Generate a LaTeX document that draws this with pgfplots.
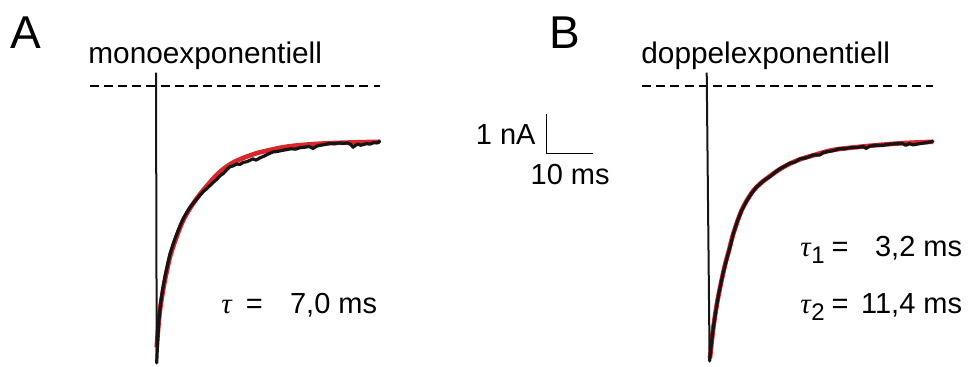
\documentclass[border=0pt]{standalone}
\usepackage{pgfplots}
\pgfplotsset{compat=1.18}
\usepackage{fontspec}
\setmainfont{Liberation Sans}
\newfontfamily\greekit{Liberation Serif}

\definecolor{fitred}{RGB}{218,37,42}
\definecolor{trace}{RGB}{25,20,20}

% recorded current (black) and fitted curves (red): time in ms, current in nA
\pgfplotstableread{
t I
0.00 -7.10
0.20 -6.55
0.45 -6.05
0.80 -5.62
1.25 -5.25
1.80 -4.89
2.35 -4.59
2.89 -4.31
3.60 -4.04
4.35 -3.80
5.05 -3.59
5.78 -3.40
6.50 -3.25
7.20 -3.12
7.96 -3.00
8.70 -2.90
9.40 -2.80
10.2 -2.70
10.9 -2.63
11.6 -2.55
12.3 -2.47
13.0 -2.40
13.8 -2.30
14.5 -2.24
15.2 -2.15
15.9 -2.07
16.6 -2.05
17.4 -2.00
18.1 -2.01
18.8 -1.96
19.6 -1.94
20.2 -1.91
20.9 -1.87
21.6 -1.90
22.5 -1.84
23.3 -1.80
24.3 -1.74
25.3 -1.69
26.2 -1.68
27.3 -1.65
28.3 -1.63
29.2 -1.61
30.2 -1.62
31.2 -1.58
32.2 -1.57
33.1 -1.55
34.0 -1.60
34.8 -1.54
35.6 -1.52
36.6 -1.50
37.6 -1.47
38.6 -1.48
39.6 -1.46
40.6 -1.47
41.4 -1.46
42.2 -1.50
42.7 -1.57
43.2 -1.52
43.8 -1.49
44.3 -1.52
44.9 -1.50
45.6 -1.48
46.4 -1.49
47.2 -1.45
47.9 -1.46
48.5 -1.42
}\traceA

\pgfplotstableread{
t I
0.00 -6.70
0.35 -6.18
0.72 -5.74
1.25 -5.33
1.80 -4.97
2.35 -4.66
2.89 -4.38
3.60 -4.11
4.35 -3.86
5.05 -3.64
5.78 -3.44
6.85 -3.21
7.96 -3.01
9.05 -2.83
10.13 -2.67
11.5 -2.48
13.04 -2.28
14.8 -2.10
16.65 -1.96
18.5 -1.86
20.28 -1.78
22.1 -1.71
23.91 -1.66
27.0 -1.58
30.0 -1.53
34.0 -1.49
38.0 -1.465
43.0 -1.445
48.5 -1.43
}\fitA

\pgfplotstableread{
t I
0.35 -7.05
0.75 -6.60
1.09 -6.26
1.50 -5.92
1.89 -5.63
2.35 -5.32
2.83 -5.05
3.25 -4.81
3.70 -4.60
4.15 -4.40
4.57 -4.22
5.05 -4.01
5.50 -3.79
6.40 -3.46
7.33 -3.19
8.40 -2.95
9.50 -2.75
10.4 -2.61
11.3 -2.51
12.4 -2.40
13.5 -2.32
14.6 -2.21
15.7 -2.12
16.8 -2.05
17.8 -1.98
18.9 -1.95
20.0 -1.87
21.4 -1.84
22.8 -1.77
24.3 -1.77
25.0 -1.71
26.0 -1.68
27.2 -1.66
28.5 -1.61
29.8 -1.61
31.0 -1.58
32.3 -1.58
33.7 -1.55
34.4 -1.60
35.2 -1.54
36.5 -1.52
38.0 -1.52
39.5 -1.49
40.9 -1.48
42.2 -1.47
43.0 -1.52
43.8 -1.48
44.6 -1.51
45.5 -1.49
46.5 -1.47
47.7 -1.45
48.9 -1.42
}\traceB

\pgfplotstableread{
t I
0.43 -6.98
1.09 -6.26
1.89 -5.62
2.83 -5.05
3.70 -4.59
4.57 -4.21
5.50 -3.79
7.33 -3.18
9.50 -2.74
11.30 -2.51
13.48 -2.31
15.65 -2.13
17.83 -1.99
20.0 -1.88
22.83 -1.78
27.17 -1.64
33.70 -1.55
41.74 -1.47
48.91 -1.43
}\fitB

\pgfplotsset{
  panel/.style={hide axis, x=2.3pt, y=19.5pt,
    xmin=-15, xmax=50, ymin=-7.5, ymax=0.5,
    anchor=origin, clip=false},
  baseline/.style={line width=0.75pt, dash pattern=on 4.5pt off 2.6pt},
  fit/.style={fitred, line width=2.3pt, smooth, line join=round},
  rec/.style={trace, line width=1.6pt, line join=round, line cap=round},
  jump/.style={trace, line width=1pt},
}

\begin{document}
\begin{tikzpicture}[x=0.5pt, y=-0.5pt, every node/.style={inner sep=0pt, font=\fontsize{14.5}{17}\selectfont}]
\path[use as bounding box] (0,0) rectangle (971,367);
\coordinate (oA) at (156.7,86);
\coordinate (oB) at (708,86);

\begin{axis}[panel, at={(oA)}]
  \addplot[baseline] coordinates {(-14.6,0) (48.5,0)};
  \addplot[fit] table[x=t, y=I] {\fitA};
  \addplot[jump] coordinates {(-0.15,0.34) (0.0,-7.1)};
  \addplot[rec] table[x=t, y=I] {\traceA};
  % scale bar: 1 nA, 10 ms
  \addplot[line width=0.75pt, black] coordinates {(84.78,-0.726) (84.78,-1.726) (94.78,-1.726)};
\end{axis}

\begin{axis}[panel, at={(oB)}]
  \addplot[baseline] coordinates {(-14.35,0) (48.9,0)};
  \addplot[fit] table[x=t, y=I] {\fitB};
  \addplot[jump] coordinates {(-0.28,0.34) (0.35,-7.05)};
  \addplot[rec] table[x=t, y=I] {\traceB};
\end{axis}

\node[anchor=base west, font=\fontsize{23}{27}\selectfont] at (10,48.3) {A};
\node[anchor=base west, font=\fontsize{23}{27}\selectfont] at (549.5,48.3) {B};
\node[anchor=base west, font=\fontsize{14.9}{17}\selectfont] at (88,63.3) {monoexponentiell};
\node[anchor=base west, font=\fontsize{14.9}{17}\selectfont] at (641,63.3) {doppelexponentiell};

\node[anchor=base east] at (536,145) {1 nA};
\node[anchor=base east] at (610,185) {10 ms};

\node[anchor=base west] at (221,313.3) {\greekit\itshape τ};
\node[anchor=base] at (254.3,313.3) {=};
\node[anchor=base east] at (377.5,313.3) {7,0 ms};

\node[anchor=base west] at (800,256.7) {\greekit\itshape τ};
\node[anchor=base west, font=\fontsize{12}{14}\selectfont] at (811,263.7) {1};
\node[anchor=base] at (840,256.7) {=};
\node[anchor=base east] at (962.5,256.7) {3,2 ms};

\node[anchor=base west] at (800,313.3) {\greekit\itshape τ};
\node[anchor=base west, font=\fontsize{12}{14}\selectfont] at (811,320.3) {2};
\node[anchor=base] at (840,313.3) {=};
\node[anchor=base east] at (962.5,313.3) {11,4 ms};
\end{tikzpicture}
\end{document}
